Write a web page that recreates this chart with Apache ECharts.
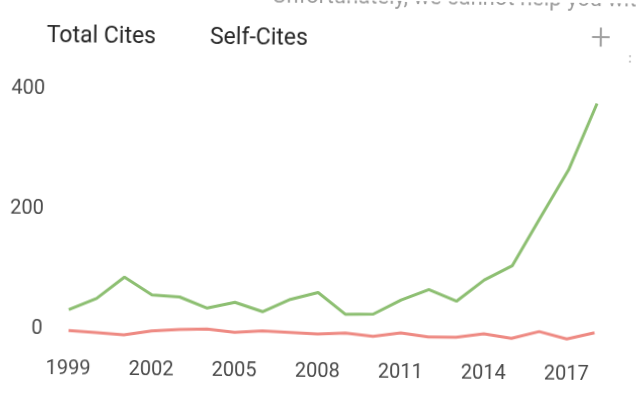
<!DOCTYPE html>
<html>
<head>
<meta charset="utf-8">
<script src="https://cdn.jsdelivr.net/npm/echarts@6/dist/echarts.min.js"></script>
<style>
  html, body { margin: 0; padding: 0; background: #fff; overflow: hidden; }
  /* the reference is a slightly tilted photo of the chart */
  #chart { width: 636px; height: 395px; transform: rotate(0.63deg); }
</style>
</head>
<body>
<div id="chart"></div>
<script>
// data
const years = ['1999', '2000', '2001', '2002', '2003', '2004', '2005', '2006', '2007', '2008',
  '2009', '2010', '2011', '2012', '2013', '2014', '2015', '2016', '2017', '2018']
const totalCites = [44, 63, 99, 70, 67, 49, 59, 44, 65, 77, 41, 42, 66, 84, 65, 101, 125, 206, 286, 397]
const selfCites = [9, 6, 3, 10, 13, 14, 9, 12, 10, 8, 10, 5, 11, 5, 5, 11, 4, 16, 4, 15]
const legendNames = ['Total Cites', 'Self-Cites']

const font = 'Roboto'
const chart = echarts.init(document.getElementById('chart'))

chart.setOption({
  backgroundColor: '#fff',
  animation: false,
  textStyle: { fontFamily: font },
  legend: {
    data: legendNames,
    left: 34,
    top: 23,
    itemWidth: 0,
    itemHeight: 0,
    itemGap: 48,
    textStyle: { fontSize: 23, lineHeight: 23, color: '#262626', fontFamily: font },
    selectedMode: false,
  },
  grid: { left: 70, right: 40, top: 98.7, bottom: 56.3, containLabel: false },
  xAxis: {
    type: 'category',
    data: years,
    boundaryGap: false,
    axisLine: { show: false },
    axisTick: { show: false },
    splitLine: { show: false },
    axisLabel: {
      interval: 2,
      margin: 23,
      fontSize: 20,
      lineHeight: 20,
      color: '#4a4a4a',
      fontFamily: font,
    },
  },
  yAxis: {
    type: 'value',
    min: 0,
    max: 400,
    interval: 200,
    axisLine: { show: false },
    axisTick: { show: false },
    splitLine: { show: false },
    axisLabel: {
      margin: 26,
      fontSize: 20,
      lineHeight: 14,
      verticalAlign: 'bottom',
      color: '#4a4a4a',
      fontFamily: font,
    },
  },
  series: [
    {
      name: 'Total Cites',
      type: 'line',
      data: totalCites,
      symbol: 'none',
      lineStyle: { width: 3, color: '#8dbf72' },
      itemStyle: { color: '#8dbf72' },
    },
    {
      name: 'Self-Cites',
      type: 'line',
      data: selfCites,
      symbol: 'none',
      lineStyle: { width: 3, color: '#ee8a83' },
      itemStyle: { color: '#ee8a83' },
    },
  ],
  graphic: [
    // page text cut off by the top edge of the photo
    {
      type: 'text', left: 270, top: -14,
      style: { text: 'Unfortunately, we cannot help you with that.', fontSize: 22, fill: '#9a9a9a', fontFamily: font },
    },
    {
      type: 'text', left: 589, top: 19,
      style: { text: '+', fontSize: 36, fontWeight: 300, fill: '#a0a0a0', fontFamily: font },
    },
    {
      type: 'text', left: 627, top: 50,
      style: { text: ':', fontSize: 12, fill: '#777', fontFamily: font },
    },
  ],
})
</script>
</body>
</html>
